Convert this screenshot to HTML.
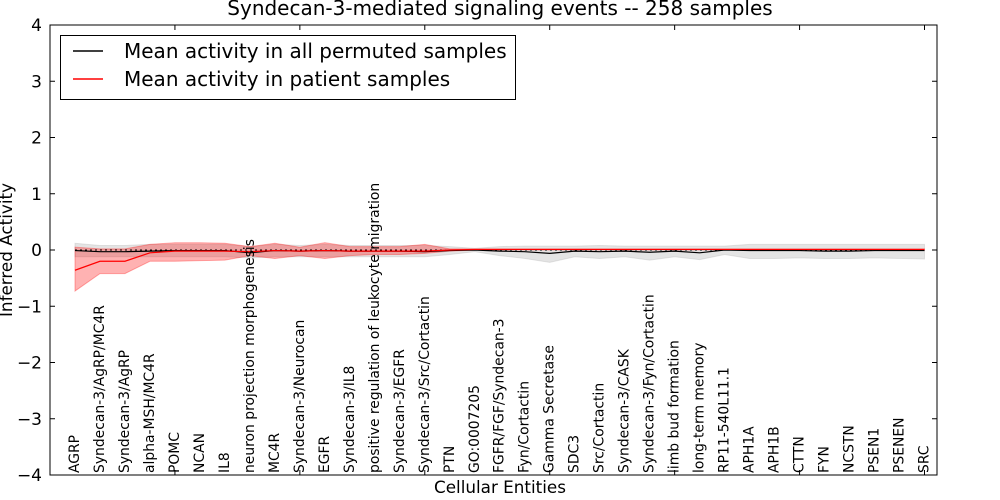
<!DOCTYPE html>
<html><head><meta charset="utf-8"><style>
body{margin:0;background:#fff;}
svg{display:block;font-family:"DejaVu Sans","Liberation Sans",sans-serif;}
</style></head><body>
<svg id="chart" width="1000" height="500">
<text x="500" y="15" text-anchor="middle" font-size="20">Syndecan-3-mediated signaling events -- 258 samples</text>
<text x="500" y="493" text-anchor="middle" font-size="16.8">Cellular Entities</text>
<text transform="translate(12,250) rotate(-90)" text-anchor="middle" font-size="16.8">Inferred Activity</text>
<g id="plot"></g>
<g id="legend">
<rect x="60.5" y="35.5" width="455" height="64" fill="#fff" stroke="#000"/>
<line x1="73" y1="51" x2="103" y2="51" stroke="#000" stroke-width="1.5"/>
<text x="124" y="58" font-size="20">Mean activity in all permuted samples</text>
<line x1="73" y1="79" x2="103" y2="79" stroke="#f00" stroke-width="1.5"/>
<text x="124" y="86" font-size="20">Mean activity in patient samples</text>
</g>
</svg>
<script>
const categories=["AGRP","Syndecan-3/AgRP/MC4R","Syndecan-3/AgRP","alpha-MSH/MC4R","POMC","NCAN","IL8","neuron projection morphogenesis","MC4R","Syndecan-3/Neurocan","EGFR","Syndecan-3/IL8","positive regulation of leukocyte migration","Syndecan-3/EGFR","Syndecan-3/Src/Cortactin","PTN","GO:0007205","FGFR/FGF/Syndecan-3","Fyn/Cortactin","Gamma Secretase","SDC3","Src/Cortactin","Syndecan-3/CASK","Syndecan-3/Fyn/Cortactin","limb bud formation","long-term memory","RP11-540L11.1","APH1A","APH1B","CTTN","FYN","NCSTN","PSEN1","PSENEN","SRC"];
const patientMean=[-0.36,-0.2,-0.2,-0.05,-0.02,-0.02,-0.02,-0.03,-0.01,-0.02,-0.01,-0.02,-0.02,-0.02,-0.02,0.0,0.01,0.01,0.01,0.01,0.01,0.01,0.01,0.01,0.01,0.01,0.01,0.01,0.01,0.01,0.01,0.01,0.01,0.01,0.01];
const patientLow=[-0.73,-0.42,-0.42,-0.2,-0.2,-0.19,-0.18,-0.1,-0.15,-0.1,-0.15,-0.1,-0.08,-0.08,-0.06,-0.02,0.0,0.0,0.0,0.0,0.0,0.0,0.0,0.0,0.0,0.0,0.0,0.0,0.0,0.0,0.0,0.0,0.0,0.0,0.0];
const patientHigh=[0.05,0.02,0.02,0.1,0.13,0.13,0.12,0.06,0.12,0.05,0.13,0.06,0.06,0.06,0.1,0.02,0.02,0.02,0.02,0.02,0.02,0.02,0.02,0.02,0.02,0.02,0.02,0.02,0.02,0.02,0.02,0.02,0.02,0.02,0.02];
const permMean=[-0.01,-0.03,-0.03,-0.02,-0.01,-0.01,-0.01,-0.05,-0.01,-0.02,-0.01,-0.02,-0.02,-0.02,-0.03,-0.01,0.0,-0.02,-0.03,-0.06,-0.02,-0.03,-0.02,-0.04,-0.02,-0.05,0.0,-0.01,-0.01,-0.01,-0.02,-0.02,-0.01,-0.01,-0.01];
const permLow=[-0.12,-0.12,-0.12,-0.12,-0.12,-0.12,-0.12,-0.14,-0.12,-0.12,-0.12,-0.12,-0.12,-0.12,-0.12,-0.08,-0.03,-0.1,-0.15,-0.22,-0.12,-0.15,-0.12,-0.18,-0.12,-0.17,-0.08,-0.15,-0.15,-0.14,-0.15,-0.15,-0.14,-0.15,-0.16];
const permHigh=[0.12,0.08,0.08,0.1,0.1,0.1,0.1,0.06,0.1,0.08,0.1,0.08,0.08,0.08,0.08,0.06,0.03,0.06,0.07,0.07,0.07,0.08,0.07,0.07,0.07,0.07,0.07,0.1,0.1,0.1,0.1,0.1,0.1,0.1,0.1];
const yTicks=[-4,-3,-2,-1,0,1,2,3,4];
const xTicks=[0,5,10,15,20,25,30,35];
const L=50,R=937,T=25,B=475,XMAX=35.5;
const xv=v=>L+v/XMAX*(R-L);
const xs=i=>xv(i+1);
const ys=v=>T+(4-v)/8*(B-T);
const NS="http://www.w3.org/2000/svg";
const plot=document.getElementById('plot');
function mk(tag,attrs,parent){const e=document.createElementNS(NS,tag);for(const k in attrs)e.setAttribute(k,attrs[k]);(parent||plot).appendChild(e);return e;}
function band(lo,hi){let p=lo.map((v,i)=>xs(i)+','+ys(v));for(let i=hi.length-1;i>=0;i--)p.push(xs(i)+','+ys(hi[i]));return p.join(' ');}
function line(a){return a.map((v,i)=>xs(i)+','+ys(v)).join(' ');}
let e;
e=mk('polygon',{points:band(permLow,permHigh),fill:'#bbbbbb','fill-opacity':0.4,stroke:'#bbbbbb','stroke-opacity':0.4});


e=mk('polygon',{points:band(patientLow,patientHigh),fill:'#ff0000','fill-opacity':0.3,stroke:'#ff0000','stroke-opacity':0.3});


e=mk('line',{x1:xs(0),x2:xs(34),y1:ys(0),y2:ys(0),stroke:'#000','stroke-dasharray':'2,3'});


e=mk('polyline',{points:line(permMean),fill:'none',stroke:'#000','stroke-width':1.2});


e=mk('polyline',{points:line(patientMean),fill:'none',stroke:'#f00','stroke-width':1.2});


e=mk('rect',{x:L,y:T,width:R-L,height:B-T,fill:'none',stroke:'#000'});


yTicks.forEach(v=>{
 e=mk('line',{x1:L,x2:L+5,y1:ys(v),y2:ys(v),stroke:'#000'});
 
 
 e=mk('line',{x1:R-5,x2:R,y1:ys(v),y2:ys(v),stroke:'#000'});
 
 
 e=mk('text',{x:L-8,y:ys(v)+6,'text-anchor':'end','font-size':17});
 e.textContent=(v<0?'\u2212'+(-v):String(v));
 
 
});
xTicks.forEach(v=>{
 e=mk('line',{x1:xv(v),x2:xv(v),y1:B,y2:B-5,stroke:'#000'});
 
 
 e=mk('line',{x1:xv(v),x2:xv(v),y1:T,y2:T+5,stroke:'#000'});
 
 
});
categories.forEach((c,i)=>{
 e=mk('text',{transform:`translate(${xs(i)+4},473) rotate(-90)`,'font-size':13.9});
 e.textContent=c;
 
 
});
</script>
</body></html>
